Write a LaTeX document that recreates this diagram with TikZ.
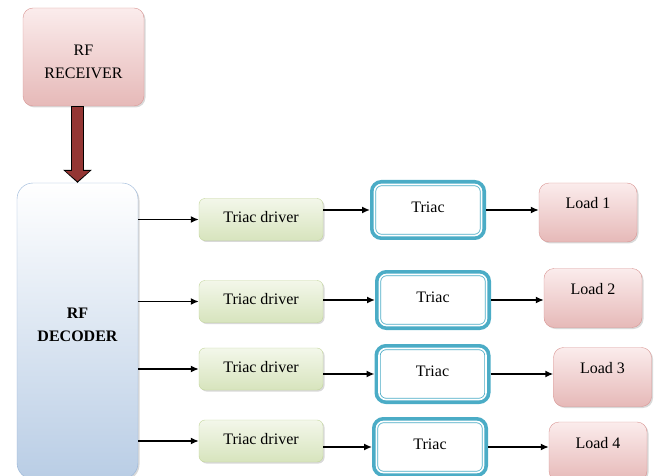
\documentclass[tikz,border=0pt]{standalone}
\usepackage{fontspec}
\setmainfont{Liberation Serif}
\usetikzlibrary{arrows.meta,shadows}
\definecolor{pinkline}{HTML}{D99694}
\definecolor{pinktop}{HTML}{FBECEC}
\definecolor{pinkbot}{HTML}{E6B9B8}
\definecolor{greenline}{HTML}{C3D69B}
\definecolor{greentop}{HTML}{F3F7EA}
\definecolor{greenbot}{HTML}{D7E4BD}
\definecolor{blueline}{HTML}{95B3D7}
\definecolor{bluebot}{HTML}{B9CDE5}
\definecolor{triacline}{HTML}{4BACC6}
\definecolor{arrowred}{HTML}{943634}

\begin{document}
\begin{tikzpicture}[x=1pt,y=-1pt,
    font=\fontsize{16}{23}\selectfont,
    boxshadow/.style={drop shadow={shadow xshift=1.5pt,shadow yshift=-1.5pt,opacity=0.3}},
    pinkbox/.style={draw=pinkline,top color=pinktop,bottom color=pinkbot,rounded corners=10pt,boxshadow},
    loadbox/.style={pinkbox,minimum width=98pt,minimum height=59pt,text height=11pt,text depth=18pt},
    decbox/.style={draw=blueline,top color=white,bottom color=bluebot,rounded corners=16pt,boxshadow},
    drvbox/.style={draw=greenline,top color=greentop,bottom color=greenbot,rounded corners=6pt,boxshadow,
        minimum width=124pt,minimum height=42pt,text height=11pt,text depth=4pt},
    triacbox/.style={fill=white,draw=triacline,line width=0.8pt,double=white,double distance=1.6pt,
        preaction={draw=triacline,line width=9pt},rounded corners=7pt,outer sep=4.5pt,
        minimum width=107pt,minimum height=51pt,text height=11pt,text depth=6pt},
    conn/.style={line width=1.5pt,-{Latex[length=8pt,width=7pt]}}]
\useasboundingbox (0,0) rectangle (654,476);

\node[pinkbox,minimum width=121pt,minimum height=98pt,align=center,text height=44pt] (rx) at (83.5,57) {RF\\RECEIVER};
\node[decbox,minimum width=121pt,minimum height=296pt,align=center,text depth=12pt] (dec) at (77.5,331) {\bfseries RF\\\bfseries DECODER};

\node[drvbox] (d1) at (261,219.5) {Triac driver};
\node[drvbox] (d2) at (261,301.5) {Triac driver};
\node[drvbox] (d3) at (261,369) {Triac driver};
\node[drvbox] (d4) at (261,441) {Triac driver};

\node[triacbox] (t1) at (428,210) {Triac};
\node[triacbox] (t2) at (433,300) {Triac};
\node[triacbox] (t3) at (432.5,374) {Triac};
\node[triacbox] (t4) at (430,447) {Triac};

\node[loadbox] (l1) at (588,212.5) {Load 1};
\node[loadbox] (l2) at (593,298) {Load 2};
\node[loadbox] (l3) at (602.5,377) {Load 3};
\node[loadbox] (l4) at (598,451.5) {Load 4};

\draw[line width=13pt,-{Triangle[length=13pt,width=28pt]}] (rx.south -| dec.north) -- (dec.north);
\draw[line width=10.5pt,arrowred,-{Triangle[length=10pt,width=23pt]},shorten <=1pt,shorten >=1.6pt] (rx.south -| dec.north) -- (dec.north);

\draw[conn] (d1.west -| dec.east) -- (d1.west);
\draw[conn] (d2.west -| dec.east) -- (d2.west);
\draw[conn] (d3.west -| dec.east) -- (d3.west);
\draw[conn] (d4.west -| dec.east) -- (d4.west);

\draw[conn] (d1.east |- t1.west) -- (t1.west);
\draw[conn] (d2.east |- t2.west) -- (t2.west);
\draw[conn] (d3.east |- t3.west) -- (t3.west);
\draw[conn] (d4.east |- t4.west) -- (t4.west);

\draw[conn] (t1.east) -- (t1.east -| l1.west);
\draw[conn] (t2.east) -- (t2.east -| l2.west);
\draw[conn] (t3.east) -- (t3.east -| l3.west);
\draw[conn] (t4.east) -- (t4.east -| l4.west);
\end{tikzpicture}
\end{document}
